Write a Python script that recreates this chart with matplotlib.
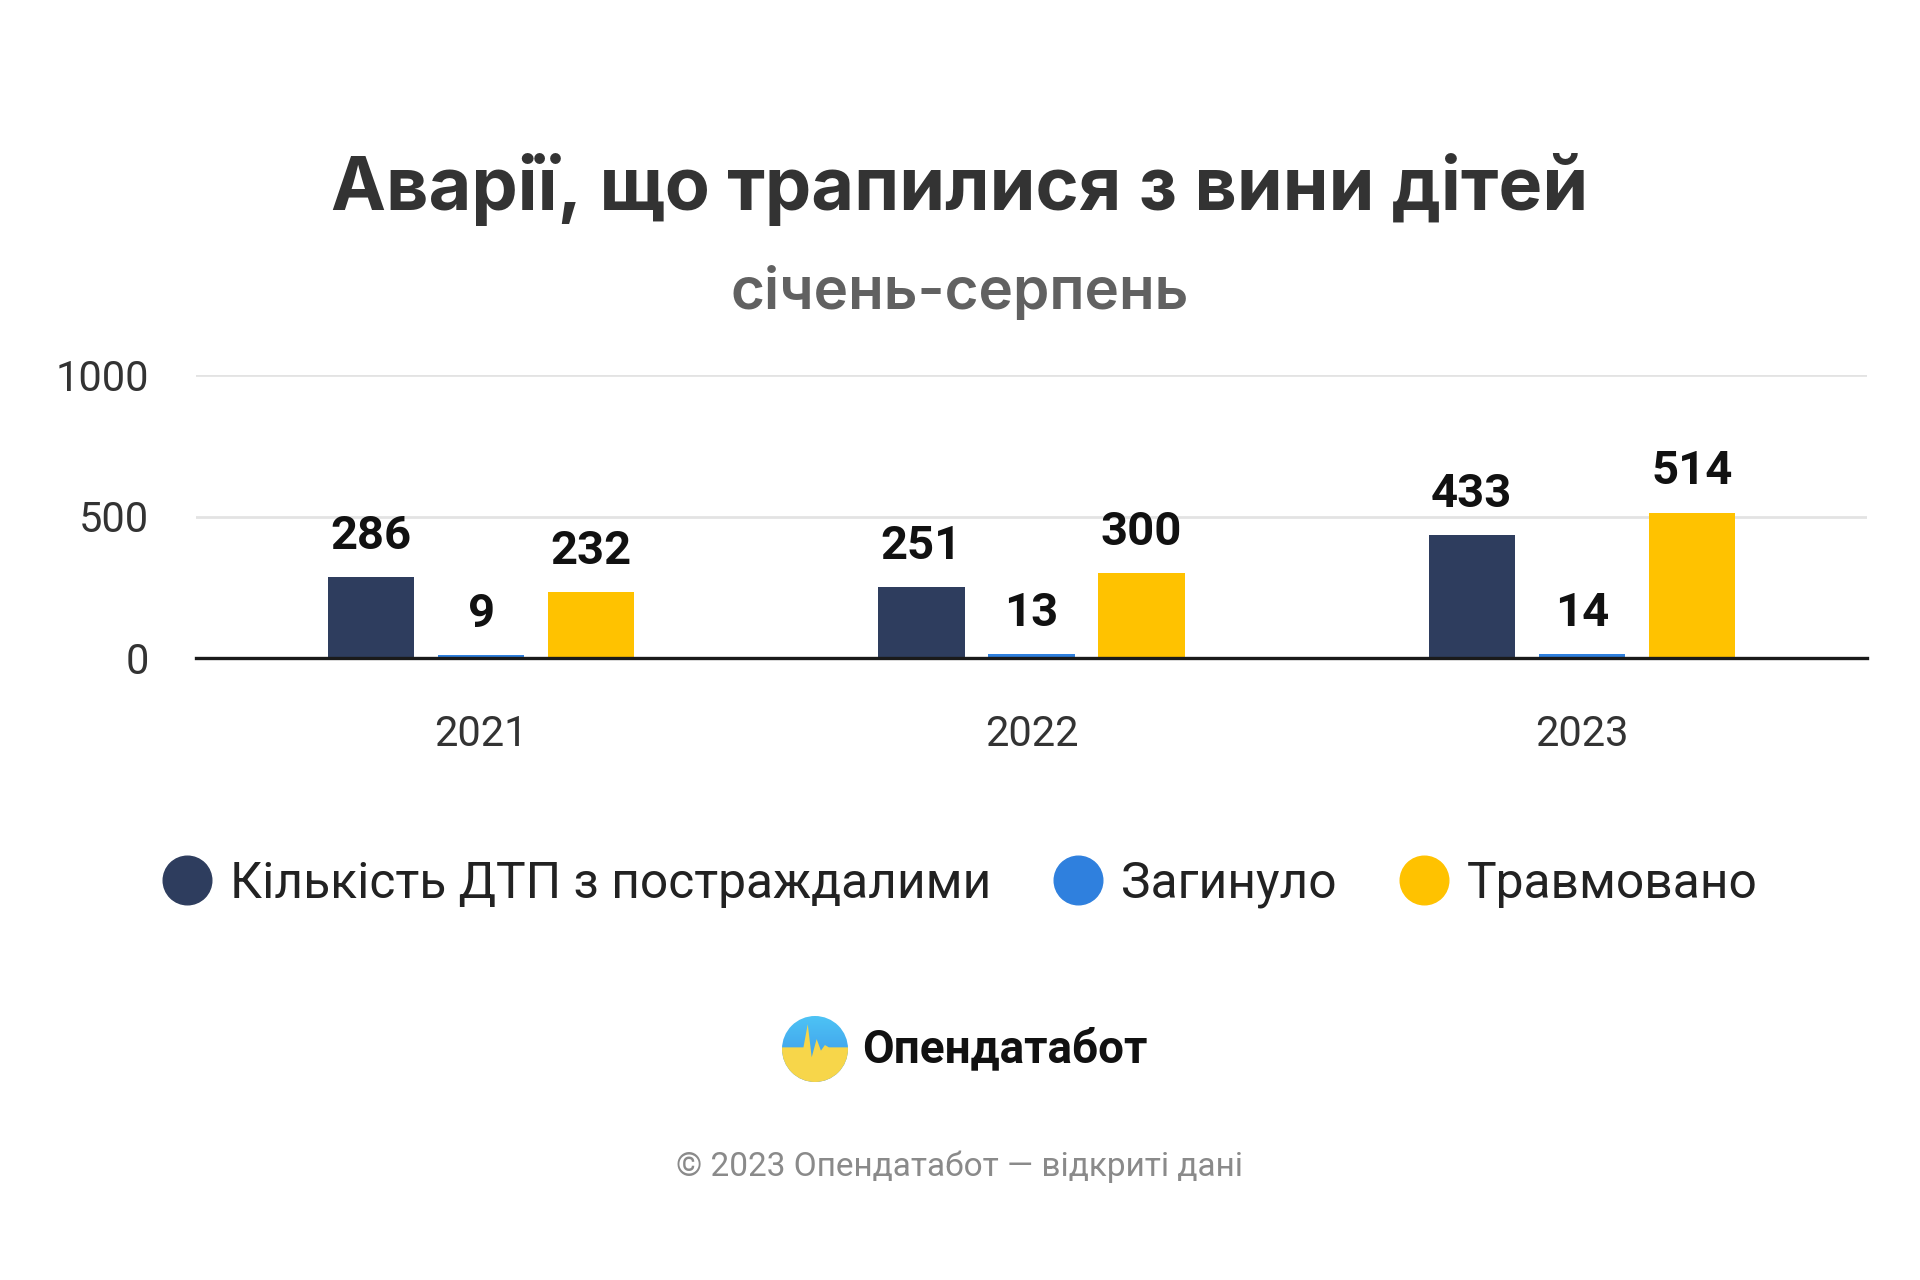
import numpy as np
import matplotlib
matplotlib.use("Agg")
import matplotlib.pyplot as plt
from matplotlib.lines import Line2D
from matplotlib.patches import Circle, Polygon

plt.rcParams["font.family"] = ["Roboto", "DejaVu Sans"]

# data
years = ["2021", "2022", "2023"]
series_names = ["Кількість ДТП з постраждалими", "Загинуло", "Травмовано"]
accidents = [286, 251, 433]
killed = [9, 13, 14]
injured = [232, 300, 514]
colors = ["#2e3d5e", "#2f80de", "#ffc200"]
y_ticks = [0, 500, 1000]

W, H = 1920, 1280
fig = plt.figure(figsize=(W / 100, H / 100), dpi=100)
fig.patch.set_facecolor("white")

# axes placed in pixel terms of the reference
left, right, y0, y1000 = 196, 1867, 658, 375
ax = fig.add_axes([left / W, 1 - y0 / H, (right - left) / W, (y0 - y1000) / H])

x = np.arange(len(years))
offsets = [-0.2, 0.0, 0.2]
width = 0.157
for vals, off, col in zip([accidents, killed, injured], offsets, colors):
    bars = ax.bar(x + off, vals, width, color=col, zorder=3)
    for b, v in zip(bars, vals):
        ax.annotate(str(v), (b.get_x() + b.get_width() / 2, v),
                    xytext=(0, 14), textcoords="offset points",
                    ha="center", va="bottom", fontsize=34, fontweight="bold",
                    color="#111111")

ax.set_xlim(-0.518, 2.518)
ax.set_ylim(0, 1000)
ax.set_yticks(y_ticks)
ax.set_yticklabels([str(t) for t in y_ticks])
ax.set_xticks(x)
ax.set_xticklabels(years)
ax.tick_params(axis="y", length=0, pad=34, labelsize=30, labelcolor="#333333")
ax.tick_params(axis="x", length=0, pad=40, labelsize=30, labelcolor="#333333")
ax.grid(True, axis="y", color="#e3e3e3", linewidth=2, zorder=0)
for s in ["top", "right", "left"]:
    ax.spines[s].set_visible(False)
ax.spines["bottom"].set_color("#1a1a1a")
ax.spines["bottom"].set_linewidth(2.4)
ax.spines["bottom"].set_zorder(4)

# titles
fig.text(0.5, 1 - 190 / H, "Аварії, що трапилися з вини дітей", ha="center",
         va="center", fontsize=53, fontweight="bold", color="#333333",
         family=["Inter", "Roboto", "DejaVu Sans"])
fig.text(0.5, 1 - 294 / H, "січень-серпень", ha="center", va="center",
         fontsize=42, fontweight="semibold", color="#616161",
         family=["Inter", "Roboto", "DejaVu Sans"])

# legend
handles = [Line2D([], [], marker="o", linestyle="", markersize=35,
                  markerfacecolor=c, markeredgecolor=c) for c in colors]
fig.legend(handles, series_names, loc="center", bbox_to_anchor=(0.5, 1 - 884 / H),
           ncol=3, frameon=False, fontsize=35.8, handlelength=1.0,
           handletextpad=0.36, columnspacing=1.25, labelcolor="#222222")

# logo
r = 33
lax = fig.add_axes([(815 - r) / W, 1 - (1049 + r) / H, 2 * r / W, 2 * r / H])
lax.set_xlim(-1, 1)
lax.set_ylim(-1, 1)
lax.set_aspect("equal")
lax.axis("off")
clip = Circle((0, 0), 1, transform=lax.transData)
grad = np.linspace(0, 1, 100).reshape(-1, 1)
img = lax.imshow(grad, extent=[-1, 1, -1, 1], origin="upper",
                 cmap=matplotlib.colors.LinearSegmentedColormap.from_list(
                     "lg", ["#4dc3f5", "#3a8ee6"]), aspect="auto")
img.set_clip_path(clip)
pulse = [(-1.2, 0.05), (-0.35, 0.05), (-0.22, 0.75), (-0.1, -0.25), (0.05, 0.3),
         (0.18, -0.05), (0.3, 0.12), (0.42, 0.05), (1.2, 0.05), (1.2, -1.2), (-1.2, -1.2)]
poly = Polygon(pulse, closed=True, facecolor="#f7d64a", edgecolor="none")
lax.add_patch(poly)
poly.set_clip_path(clip)
fig.text(862 / W, 1 - 1049 / H, "Опендатабот", ha="left", va="center",
         fontsize=33, fontweight="bold", color="#111111")

fig.text(0.5, 1 - 1167 / H, "© 2023 Опендатабот — відкриті дані", ha="center",
         va="center", fontsize=24, color="#8a8a8a")

fig.savefig("out.png", dpi=100)
